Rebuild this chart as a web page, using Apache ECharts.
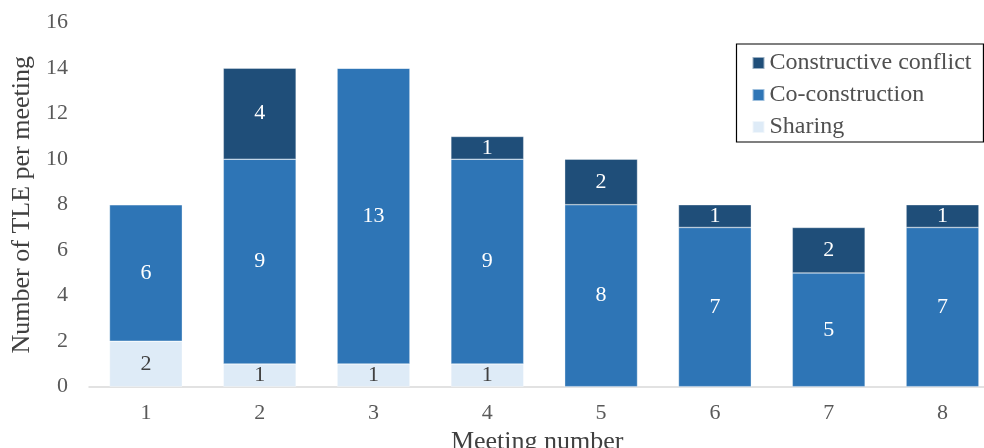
<!DOCTYPE html>
<html>
<head>
<meta charset="utf-8">
<script src="https://cdn.jsdelivr.net/npm/echarts@6/dist/echarts.min.js"></script>
<style>
  html, body { margin: 0; padding: 0; background: #fff; overflow: hidden; }
  #chart { width: 1000px; height: 448px; }
</style>
</head>
<body>
<div id="chart"></div>
<script>
// Meetings along the x axis
const meetings = ['1', '2', '3', '4', '5', '6', '7', '8'];
// TLE counts per meeting, by type
const sharing = [2, 1, 1, 1, 0, 0, 0, 0];
const coConstruction = [6, 9, 13, 9, 8, 7, 5, 7];
const constructiveConflict = [0, 4, 0, 1, 2, 1, 2, 1];

const FONT = '"Liberation Serif", "Times New Roman", serif';

function segment(name, data, color, labelColor) {
  return {
    name: name,
    type: 'bar',
    stack: 'tle',
    data: data,
    barCategoryGap: '36%',
    itemStyle: { color: color, borderColor: 'rgba(255,255,255,0.55)', borderWidth: 0.6 },
    label: {
      show: true,
      position: 'inside',
      color: labelColor,
      fontFamily: FONT,
      fontSize: 22,
      formatter: p => (p.value ? String(p.value) : '')
    },
    emphasis: { disabled: true }
  };
}

const chart = echarts.init(document.getElementById('chart'), null, { renderer: 'canvas' });
chart.setOption({
  animation: false,
  backgroundColor: '#ffffff',
  textStyle: { fontFamily: FONT },
  grid: { left: 89, right: 0.6, top: 22.7, bottom: 61.3, containLabel: false, outerBoundsMode: 'none' },
  legend: {
    orient: 'vertical',
    left: 736.5,
    top: 44,
    data: ['Constructive conflict', 'Co-construction', 'Sharing'],
    icon: 'rect',
    itemWidth: 12,
    itemHeight: 12,
    itemGap: 8,
    padding: [7, 12, 3, 15],
    borderColor: '#000000',
    borderWidth: 1.2,
    textStyle: { fontFamily: FONT, fontSize: 24, color: '#505050' }
  },
  xAxis: {
    type: 'category',
    data: meetings,
    name: 'Meeting number',
    nameLocation: 'middle',
    nameGap: 36,
    nameTextStyle: { fontFamily: FONT, fontSize: 26, color: '#404040', padding: [0, 14, 0, 0] },
    axisLine: { lineStyle: { color: '#d9d9d9', width: 1.5 } },
    axisTick: { show: false },
    axisLabel: { margin: 16, fontFamily: FONT, fontSize: 22, color: '#595959' }
  },
  yAxis: {
    type: 'value',
    min: 0,
    max: 16,
    interval: 2,
    name: 'Number of TLE per meeting',
    nameLocation: 'middle',
    nameGap: 54,
    nameTextStyle: { fontFamily: FONT, fontSize: 26, color: '#404040' },
    axisLine: { show: false },
    axisTick: { show: false },
    splitLine: { show: false },
    axisLabel: { margin: 21, fontFamily: FONT, fontSize: 22, color: '#595959' }
  },
  series: [
    segment('Sharing', sharing, '#DEEBF7', '#404040'),
    segment('Co-construction', coConstruction, '#2E75B6', '#ffffff'),
    segment('Constructive conflict', constructiveConflict, '#1F4E79', '#ffffff')
  ]
});
</script>
</body>
</html>
